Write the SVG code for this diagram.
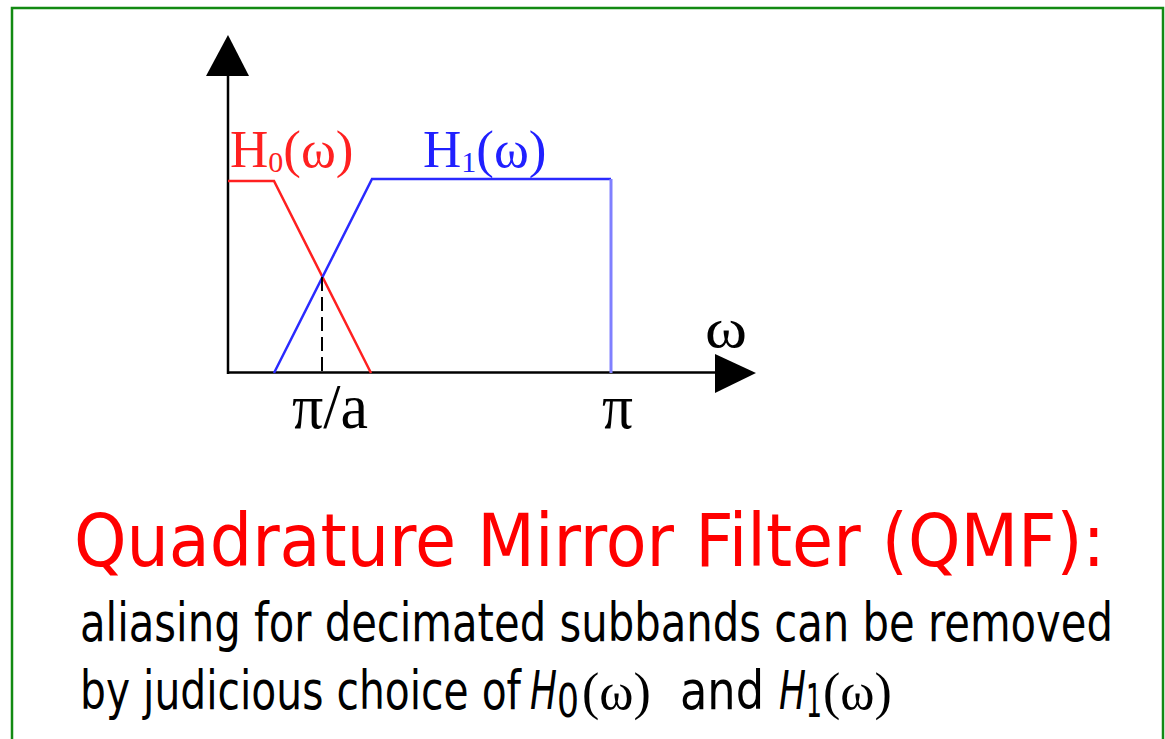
<svg xmlns="http://www.w3.org/2000/svg" width="1165" height="739" viewBox="0 0 1165 739">
<style>
.serif{font-family:"Liberation Serif","DejaVu Serif",serif;}
.sans{font-family:"DejaVu Sans","Liberation Sans",sans-serif;}
.ax{stroke:#000;stroke-width:2.5;fill:none}
.body{font-size:54px;fill:#000}
</style>
<rect x="0" y="0" width="1165" height="739" fill="#fff"/>
<path d="M12,745 V8 H1163 V745" fill="none" stroke="#138a13" stroke-width="2.5"/>
<g id="axes">
<line class="ax" x1="228" y1="70" x2="228" y2="374"/>
<line class="ax" x1="227" y1="372.5" x2="720" y2="372.5"/>
<polygon points="228,35 206,76 249,76" fill="#000"/>
<polygon points="756,373 715,354 715,393" fill="#000"/>
</g>
<g id="connectors">
<polyline points="228,181 274,181 371,373" fill="none" stroke="#ff2020" stroke-width="2.5"/>
<polyline points="274,373 372,179 611,179" fill="none" stroke="#2a2aff" stroke-width="2.5"/>
<line x1="611" y1="179" x2="611" y2="373" stroke="#8080ff" stroke-width="3"/>
<line x1="322" y1="277" x2="322" y2="372" stroke="#000" stroke-width="2" stroke-dasharray="14,6"/>
</g>
<g id="labels">
<text class="serif" x="230" y="167" font-size="53" fill="#ff2020">H<tspan font-size="30" dy="5">0</tspan><tspan dy="-5">(ω)</tspan></text>
<text class="serif" x="423" y="167" font-size="53" fill="#2020ff">H<tspan font-size="30" dy="5">1</tspan><tspan dy="-5">(ω)</tspan></text>
<text class="serif" x="705" y="347" font-size="56" fill="#000" textLength="42" lengthAdjust="spacingAndGlyphs">ω</text>
<text class="serif" x="292" y="428" font-size="64" fill="#000" textLength="76" lengthAdjust="spacingAndGlyphs">π/a</text>
<text class="serif" x="602" y="428" font-size="64" fill="#000" textLength="31" lengthAdjust="spacingAndGlyphs">π</text>
</g>
<g id="title">
<text class="sans" x="74" y="566" font-size="73" fill="#ff0000" textLength="1031" lengthAdjust="spacingAndGlyphs">Quadrature Mirror Filter (QMF):</text>
</g>
<g id="body">
<text class="sans body" x="80" y="641" textLength="1033" lengthAdjust="spacingAndGlyphs">aliasing for decimated subbands can be removed</text>
<text class="sans body" x="80" y="709" textLength="441" lengthAdjust="spacingAndGlyphs">by judicious choice of</text>
<text class="sans body" x="530" y="709" font-style="italic" textLength="27" lengthAdjust="spacingAndGlyphs">H</text>
<text class="sans" x="557" y="717" font-size="46" textLength="22" lengthAdjust="spacingAndGlyphs">0</text>
<text class="serif" x="582" y="709" font-size="52" fill="#000">(ω)</text>
<text class="sans body" x="680" y="709" textLength="84" lengthAdjust="spacingAndGlyphs">and</text>
<text class="sans body" x="779" y="709" font-style="italic" textLength="27" lengthAdjust="spacingAndGlyphs">H</text>
<text class="sans" x="806" y="717" font-size="46" textLength="16" lengthAdjust="spacingAndGlyphs">1</text>
<text class="serif" x="823" y="709" font-size="52" fill="#000">(ω)</text>
</g>
</svg>
